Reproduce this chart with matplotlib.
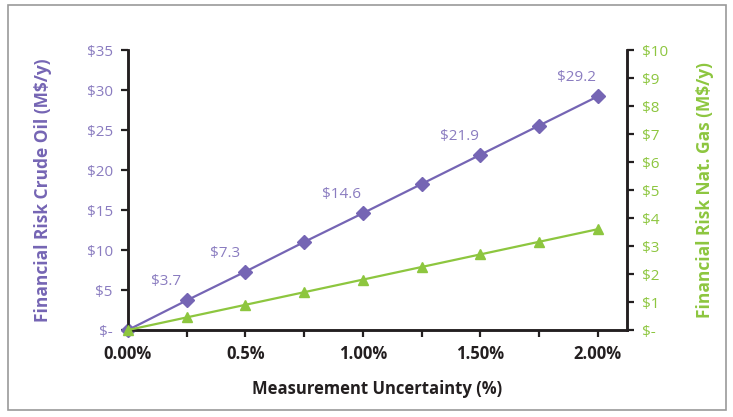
import matplotlib
matplotlib.use('Agg')
import matplotlib.pyplot as plt
from matplotlib.patches import Rectangle

PUR = '#7565b4'; PUR_T = '#8a7cc0'; GRN = '#8dc63f'; DARK = '#231f20'
plt.rcParams['font.family'] = ['Open Sans', 'DejaVu Sans']

# data
uncert = ['0.00%', '0.25%', '0.5%', '0.75%', '1.00%', '1.25%', '1.50%', '1.75%', '2.00%']
oil = [0.0, 3.7, 7.3, 11.0, 14.6, 18.25, 21.9, 25.55, 29.2]
gas = [0.0, 0.45, 0.9, 1.35, 1.8, 2.25, 2.7, 3.15, 3.6]
oil_labels = {1: '$3.7', 2: '$7.3', 4: '$14.6', 6: '$21.9', 8: '$29.2'}
shown_ticks = [0, 2, 4, 6, 8]
left_ticks = [0, 5, 10, 15, 20, 25, 30, 35]
right_ticks = list(range(0, 11))

def money(v):
    return '$-' if v == 0 else f'${v:g}'

fig = plt.figure(figsize=(7.33, 4.17), dpi=100)
fig.patches.append(Rectangle((0.011, 0.017), 0.98, 0.97, transform=fig.transFigure,
                             fill=False, ec='#9a9a9a', lw=1.2))
ax = fig.add_axes([0.1746, 0.2086, 0.6808, 0.6714])
ax2 = ax.twinx()

x = list(range(len(uncert)))
ax.plot(x, oil, color=PUR, lw=1.6, marker='D', ms=7, zorder=3, clip_on=False)
ax2.plot(x, gas, color=GRN, lw=1.6, marker='^', ms=7.5, zorder=3, clip_on=False)
for i, t in oil_labels.items():
    ax.annotate(t, (x[i], oil[i]), xytext=(-15, 8), textcoords='offset points',
                ha='center', va='bottom', fontsize=11, color=PUR_T)

ax.set_xlim(0, 8.5)
ax.set_ylim(0, 35)
ax2.set_ylim(0, 10)
ax.set_xticks(x)
ax.set_xticklabels([uncert[i] if i in shown_ticks else '' for i in x],
                   fontsize=12, fontweight='bold', color=DARK)
ax.set_yticks(left_ticks)
ax.set_yticklabels([money(v) for v in left_ticks], fontsize=11, color=PUR_T)
ax2.set_yticks(right_ticks)
ax2.set_yticklabels([money(v) for v in right_ticks], fontsize=11, color=GRN)

for a in (ax, ax2):
    a.spines['top'].set_visible(False)
    for s in ('left', 'right', 'bottom'):
        a.spines[s].set_linewidth(1.8)
        a.spines[s].set_color(DARK)
    a.tick_params(width=1.6, length=5, color=DARK, pad=6)

ax.set_ylabel('Financial Risk Crude Oil (M$/y)', fontsize=12.5, fontweight='bold',
              color=PUR, labelpad=25)
ax2.set_ylabel('Financial Risk Nat. Gas (M$/y)', fontsize=12.5, fontweight='bold',
               color=GRN, labelpad=20)
ax.set_xlabel('Measurement Uncertainty (%)', fontsize=12, fontweight='bold',
              color=DARK, labelpad=12)

fig.savefig('out.png', dpi=100, facecolor='white')
